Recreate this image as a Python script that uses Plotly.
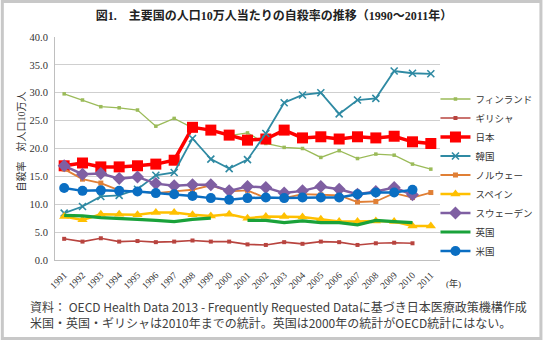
import plotly.graph_objects as go

years = [str(y) for y in range(1991, 2012)]

finland = [29.8, 28.7, 27.5, 27.3, 26.9, 24.0, 25.4, 23.7, 23.2, 22.3, 22.8, 20.9, 20.2, 20.0, 18.4, 19.6, 18.2, 19.0, 18.8, 17.2, 16.3]
greece = [3.8, 3.3, 3.9, 3.3, 3.4, 3.2, 3.3, 3.5, 3.3, 3.3, 2.8, 2.7, 3.2, 2.9, 3.3, 3.2, 2.7, 3.0, 3.1, 3.0, None]
japan = [16.9, 17.4, 16.7, 16.7, 16.9, 17.2, 17.9, 23.8, 23.3, 22.4, 21.5, 21.7, 23.3, 21.9, 22.1, 21.7, 22.1, 21.9, 22.2, 21.2, 20.9]
korea = [8.4, 9.6, 11.4, 11.6, 12.7, 15.2, 15.7, 21.8, 18.1, 16.4, 18.0, 22.7, 28.2, 29.6, 30.0, 26.2, 28.7, 29.0, 33.9, 33.5, 33.4]
norway = [16.3, 14.5, 13.8, 12.5, 12.3, 12.0, 12.3, 12.6, 13.4, 12.3, 12.5, 11.1, 11.1, 11.8, 11.7, 11.6, 10.4, 10.5, 12.0, 11.2, 12.1]
spain = [7.8, 7.2, 8.2, 8.2, 8.1, 8.5, 8.5, 8.1, 7.9, 8.2, 7.5, 7.8, 7.8, 7.7, 7.3, 6.9, 6.9, 7.0, 6.9, 6.1, 6.1]
sweden = [16.9, 15.4, 15.5, 14.6, 14.9, 13.7, 13.3, 13.5, 13.5, 12.4, 13.2, 13.0, 12.0, 12.4, 13.2, 12.7, 11.8, 12.3, 13.0, 11.7, None]
uk = [8.0, 7.9, 7.6, 7.5, 7.3, 7.1, 6.9, 7.3, 7.5, None, 7.1, 7.1, 6.7, 7.0, 6.7, 6.7, 6.3, 7.1, 6.9, 6.7, None]
usa = [12.9, 12.4, 12.5, 12.4, 12.3, 12.0, 11.8, 11.5, 11.1, 10.8, 11.1, 11.2, 11.1, 11.2, 11.2, 11.2, 11.8, 12.1, 12.1, 12.6, None]

names = ["フィンランド", "ギリシャ", "日本", "韓国", "ノルウェー", "スペイン", "スウェーデン", "英国", "米国"]

W, H = 550, 340
L, R, T, B = 55, 104, 37, 80
PW, PH = W - L - R, H - T - B

def px(x):
    return (x - L) / PW

def py(y):
    return (T + PH - y) / PH

SERIF = "Liberation Serif, Noto Sans CJK JP, serif"
SANS = "Noto Sans CJK JP, sans-serif"

fig = go.Figure()

styles = [
    (finland, "#9bbb59", 1.3, dict(symbol="square", size=3.5)),
    (greece, "#b8443f", 1.6, dict(symbol="square", size=4)),
    (japan, "#ff0000", 3.5, dict(symbol="square", size=11)),
    (korea, "#2f8aa3", 1.8, dict(symbol="x-thin", size=7, line=dict(width=1.6, color="#2f8aa3"))),
    (norway, "#e07f35", 1.8, dict(symbol="square", size=5)),
    (spain, "#ffc000", 2.5, dict(symbol="triangle-up", size=9)),
    (sweden, "#7f5fa2", 2.5, dict(symbol="diamond", size=10)),
    (uk, "#1aa23a", 3.2, None),
    (usa, "#0a6ec2", 2.5, dict(symbol="circle", size=10)),
]

for name, (vals, color, lw, mk) in zip(names, styles):
    if mk is None:
        fig.add_trace(go.Scatter(x=years, y=vals, name=name, mode="lines",
                                 line=dict(color=color, width=lw), connectgaps=False))
    else:
        m = dict(color=color)
        m.update(mk)
        fig.add_trace(go.Scatter(x=years, y=vals, name=name, mode="lines+markers",
                                 line=dict(color=color, width=lw), marker=m, connectgaps=False))

fig.update_layout(
    width=W, height=H,
    margin=dict(l=L, r=R, t=T, b=B),
    paper_bgcolor="white", plot_bgcolor="white",
    showlegend=True,
    legend=dict(x=px(546), y=py(175), xanchor="right", yanchor="middle",
                font=dict(family=SERIF, size=9.5, color="#333333"),
                bgcolor="rgba(0,0,0,0)", borderwidth=0, itemwidth=30),
    title=dict(text="<b>図1.　主要国の人口10万人当たりの自殺率の推移（1990～2011年）</b>",
               x=274 / W, xanchor="center", y=1 - 16 / H, yanchor="middle",
               font=dict(family=SERIF, size=12, color="#222222")),
    xaxis=dict(type="category", range=[-0.5, len(years) - 0.5], tickangle=-45,
               showgrid=False, showline=True,
               linecolor="#bfbfbf", linewidth=1, ticks="", automargin=False,
               ticklabelstandoff=5,
               tickfont=dict(family=SERIF, size=9.5, color="#333333")),
    yaxis=dict(range=[0, 40], dtick=5, tickformat=".1f", showgrid=True,
               gridcolor="#cfcfcf", gridwidth=1, showline=True, linecolor="#bfbfbf",
               zeroline=False, ticks="", ticklabelstandoff=4, automargin=False,
               tickfont=dict(family=SERIF, size=10.5, color="#333333")),
)

fig.add_annotation(text="自殺率　対人口10万人", xref="paper", yref="paper",
                   x=px(20), y=py(142), textangle=-90, showarrow=False,
                   xanchor="center", yanchor="middle",
                   font=dict(family=SERIF, size=10, color="#333333"))
fig.add_annotation(text="(年)", xref="paper", yref="paper", x=px(460), y=py(283),
                   showarrow=False, xanchor="center", yanchor="middle",
                   font=dict(family=SERIF, size=9, color="#333333"))
fig.add_annotation(text="資料： OECD Health Data 2013 - Frequently Requested Dataに基づき日本医療政策機構作成"
                        "<br>米国・英国・ギリシャは2010年までの統計。英国は2000年の統計がOECD統計にはない。",
                   xref="paper", yref="paper", x=px(28), y=py(314), showarrow=False,
                   xanchor="left", yanchor="middle", align="left",
                   font=dict(family=SANS, size=12, color="#404040"))

# outer frame
fig.add_shape(type="rect", xref="paper", yref="paper",
              x0=px(1.5), x1=px(W - 1.5), y0=py(H - 1.5), y1=py(1.5),
              line=dict(color="#c8c8c8", width=3), fillcolor="rgba(0,0,0,0)", layer="below")

fig.write_html("out.html")
